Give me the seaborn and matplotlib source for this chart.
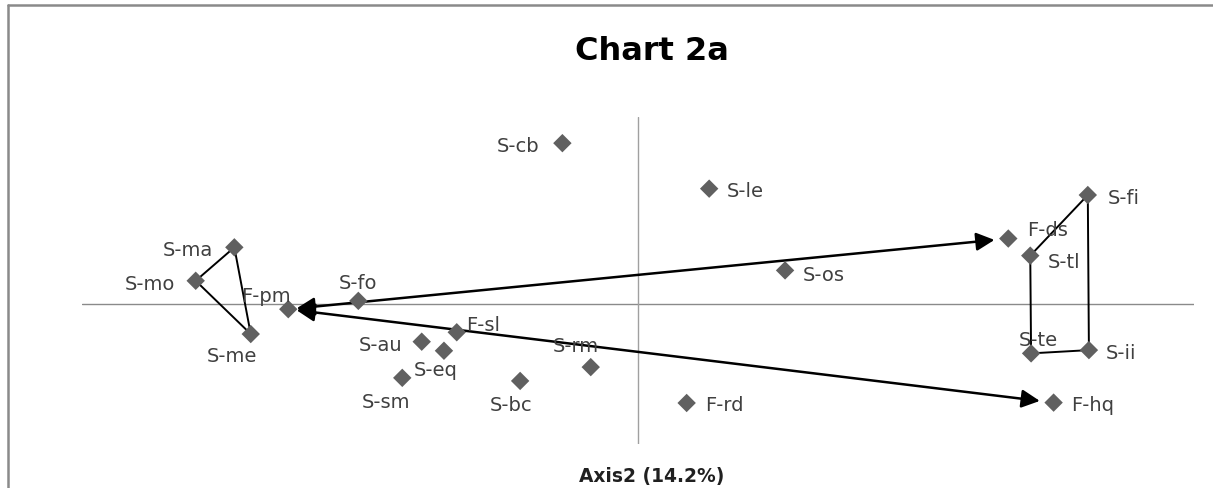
import matplotlib
matplotlib.use("Agg")
import matplotlib.pyplot as plt
from matplotlib.lines import Line2D
import pandas as pd
import seaborn as sns

# Category coordinates on the two factorial axes
labels = ["S-cb", "S-le", "S-fi", "F-ds", "S-tl", "S-ma", "S-mo", "S-os", "S-fo", "F-pm",
          "S-me", "F-sl", "S-au", "S-eq", "S-te", "S-ii", "S-rm", "S-sm", "S-bc", "F-rd", "F-hq"]
axis1 = [-0.272, 0.256, 1.618, 1.332, 1.411, -1.452, -1.591, 0.529, -1.006, -1.258,
         -1.393, -0.652, -0.778, -0.698, 1.414, 1.622, -0.170, -0.848, -0.424, 0.175, 1.495]
axis2 = [1.720, 1.233, 1.165, 0.699, 0.516, 0.605, 0.247, 0.358, 0.032, -0.057,
         -0.323, -0.304, -0.405, -0.502, -0.530, -0.495, -0.677, -0.792, -0.825, -1.061, -1.057]

# Groups outlined and links drawn as double arrows
triangle = ["S-ma", "S-mo", "S-me", "S-ma"]
quad = ["S-fi", "S-tl", "S-te", "S-ii", "S-fi"]
links = [("F-pm", "F-ds"), ("F-pm", "F-hq")]

title = "Chart 2a"
axis_title = "Axis2 (14.2%)"

# Label placement: (dx px, dy px downward, horizontal alignment)
label_pos = {
    "S-cb": (-23, 0, "right"), "S-le": (18, 0, "left"), "S-fi": (20, 0, "left"),
    "F-ds": (19, -11, "left"), "S-tl": (17, 4, "left"), "S-ma": (-21, 0, "right"),
    "S-mo": (-21, 1, "right"), "S-os": (18, 2, "left"), "S-fo": (0, -20, "center"),
    "F-pm": (-22, -16, "center"), "S-me": (-19, 19, "center"), "F-sl": (9, -10, "left"),
    "S-au": (-19, 1, "right"), "S-eq": (-8, 17, "center"), "S-te": (7, -16, "center"),
    "S-ii": (17, 0, "left"), "S-rm": (-15, -24, "center"), "S-sm": (-16, 22, "center"),
    "S-bc": (-9, 22, "center"), "F-rd": (18, 0, "left"), "F-hq": (18, 0, "left"),
}

df = pd.DataFrame({"label": labels, "axis1": axis1, "axis2": axis2})
pos = df.set_index("label")

sns.set_theme(style="white")
plt.rcParams["font.family"] = ["DejaVu Sans"]

W, H = 1213, 489
fig = plt.figure(figsize=(W / 100, H / 100), dpi=100)
ax = fig.add_axes([82 / W, 44 / H, 1112 / W, 327 / H])
ax.set_xlim(-2, 2)
ax.set_ylim(-1.5, 2)
ax.set_axis_off()

ax.axhline(0, color="#8a8a8a", lw=1.0, zorder=1)
ax.axvline(0, color="#a0a0a0", lw=1.0, zorder=1)

# Outlined groups
for group in (triangle, quad):
    ax.plot(pos.loc[group, "axis1"], pos.loc[group, "axis2"], color="black", lw=1.4, zorder=2)

# Double-headed links
for a, b in links:
    ax.annotate("", xy=(pos.loc[b, "axis1"], pos.loc[b, "axis2"]),
                xytext=(pos.loc[a, "axis1"], pos.loc[a, "axis2"]),
                arrowprops=dict(arrowstyle="<|-|>,head_length=1.1,head_width=0.55",
                                mutation_scale=10, color="black", lw=1.8,
                                shrinkA=6, shrinkB=10),
                zorder=3)

sns.scatterplot(data=df, x="axis1", y="axis2", marker="D", s=88, color="#606060",
                edgecolor="none", linewidth=0, ax=ax, zorder=4, legend=False)

for name, x, y in zip(labels, axis1, axis2):
    dx, dy, ha = label_pos[name]
    ax.annotate(name, (x, y), xytext=(dx, -dy), textcoords="offset pixels",
                ha=ha, va="center_baseline", fontsize=14, color="#404040", zorder=5)

fig.text(652 / W, (H - 59.5) / H, title, ha="center", va="baseline",
         fontsize=23, fontweight="bold", color="black")
fig.text(652 / W, (H - 482.5) / H, axis_title, ha="center", va="baseline",
         fontsize=13.4, fontweight="bold", color="#202020")

# Chart frame
frame = dict(color="#8a8a8a", lw=1.8, transform=fig.transFigure)
fig.add_artist(Line2D([8 / W, 1.0], [1 - 6 / H, 1 - 6 / H], **frame))
fig.add_artist(Line2D([8 / W, 8 / W], [0.0, 1 - 6 / H], **frame))

fig.savefig("out.png", dpi=100, facecolor="white")
